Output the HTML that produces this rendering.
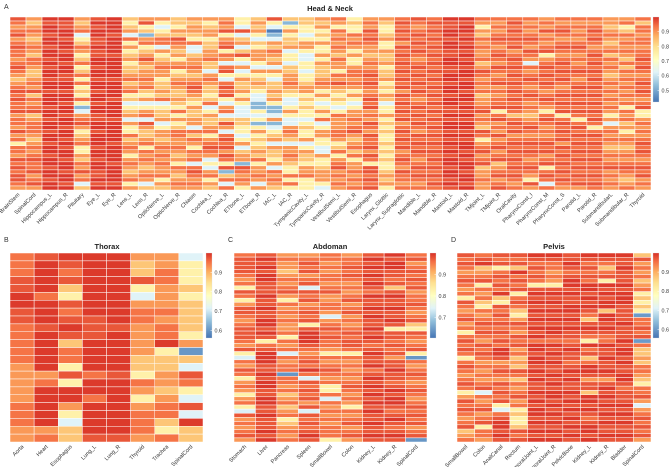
<!DOCTYPE html>
<html><head><meta charset="utf-8">
<style>
html,body{margin:0;padding:0;background:#fff;}
svg{display:block;font-family:"Liberation Sans",sans-serif;}
</style></head>
<body>
<svg id="fig" width="669" height="467" viewBox="0 0 669 467" xmlns="http://www.w3.org/2000/svg">
<rect width="669" height="467" fill="#fff"/>
<text x="4" y="9" font-size="7" fill="#333">A</text>
<text x="4" y="242" font-size="7" fill="#333">B</text>
<text x="228" y="242" font-size="7" fill="#333">C</text>
<text x="451" y="242" font-size="7" fill="#333">D</text>
<text x="330" y="11" font-size="7.5" font-weight="bold" text-anchor="middle" fill="#222">Head &amp; Neck</text>
<text x="107" y="249" font-size="7.5" font-weight="bold" text-anchor="middle" fill="#222">Thorax</text>
<text x="330" y="249" font-size="7.5" font-weight="bold" text-anchor="middle" fill="#222">Abdoman</text>
<text x="554" y="249" font-size="7.5" font-weight="bold" text-anchor="middle" fill="#222">Pelvis</text>
</svg>
<script>
// ---- Panel A data ----
const catsA = ["BrainStem","SpinalCord","Hippocampus_L","Hippocampus_R","Pituitary","Eye_L","Eye_R","Lens_L","Lens_R","OpticNerve_L","OpticNerve_R","Chiasm","Cochlea_L","Cochlea_R","ETbone_L","ETbone_R","IAC_L","IAC_R","TympanicCavity_L","TympanicCavity_R","VestibulSemi_L","VestibulSemi_R","Esophagus","Larynx_Glottic","Larynx_Supraglottic","Mandible_L","Mandible_R","Mastoid_L","Mastoid_R","TMjoint_L","TMjoint_R","OralCavity","PharynxConst_I","PharynxConst_M","PharynxConst_S","Parotid_L","Parotid_R","SubmandibularL","Submandibular_R","Thyroid"];
const levelsA = {a:0.992,b:0.965,c:0.936,d:0.895,e:0.838,f:0.75,g:0.623,h:0.524,i:0.432};
const colsA = [
"bcdcbdcbcc dcbcdedcbc bccbdccdbd cfccdbcbcbbcd",
"dedcdedcde ccdeedcdbe cdcbedcccd edcdcbccbdcbd",
"abaabaabaa babaabaaba aabaabaaba abaabaabaabaa",
"abbaabaaba abaabbaaba abaabaabaa babaabaabaaba",
"dedcgfecdf ecfecfcfef cfhgdcbdfe dcffdecdbdcge",
"babaabbabb aabaabaaba abaabbaaba aabaabaabbaba",
"aaaabaaaab aaaaabaaaa baaaabaaaa abaaaabaaaaba",
"efedgcfdfe dfeedcedcf egfedgdffc edcdfdcdedcfd",
"dbfehdcfed bdeddcdcef dgfdcgbdee dcfcdcdedcdge",
"dfgfeccgdf edcddfeede cgfeedgfdd edcdcdcddcfde",
"eefdebcded fdcfedcdee defcfdfecc ddcdedfcdedcd",
"deddefcgge ddcdedcbcd efdeeddgce cdfcdcgcbcdcd",
"dfeddfeedd ceegdcdeef ecgfdeedcf dcbcdgfgdcfde",
"dcdbfdcbfc dgcbfgcbcb fgdcgebdgc bcbdbcfbhecgc",
"ffgbgedgeb fgdgfdeedf dfgggeeffg fdgeddhbcdcdf",
"ededfgefdd dfgdfedefg ghhfgfhfdf efedecfddcdgd",
"bfgihgdecd edgdfgeede dfhhgdhgfe dgdeefdgcdcde",
"ehfdfeedgf fgeeddcdef ggfdfggdcd egddcdeffcfcf",
"eeffgfddfg gffgffeddf efeffgfeff dgfdeefddcfff",
"dedfefdffd fdeeedcdfd fgfdfcgfdd ffggdffedddfg",
"cdfcdcdcde cddfcdbdef efgfcdddcc dfecfdcbdcdcd",
"feffcdcdfd ffdccdcdfd fgfddcdcbd edcecfddcdcdc",
"dcdbcbcdde dcdcbcbcdc bcbdcdbcdb ccbdbcfbbcbcb",
"deffedffde edfeedfefd egffdfefef fefefeffededf",
"cbcbcbdbcb cbcbcbcbdb cbcbcbdcbc bcbdcbcdbccdc",
"bcdcbcbcbc dcbcbcbcbc dcbcbcbcdb cbcbcdcbcbcdc",
"cbcbcbcbcb cbcbcbcbcb cbcbcbcbcb cbcbcbcbcbcbc",
"abbaabaabb aabbaabaab aabbabaaba bababaabaabab",
"abaabababa babaabaaba abababaaba baababaabaaba",
"cdfdecdcdd cedbcdcdce ddcbdcdebc fdcbdcbeddcdd",
"cdcdcbcdcb cdbcdcbdcd ccbfcbdcdb dcbdcbedcbdcb",
"cbcbcbcbdc bcbcbcbcbc bcbcecbcbd cbcbcbcbcbcdc",
"cdcdcbcdbc dgcdcbcdcb cdcdedcbcd cbcbcdcbcdfbd",
"dcdbdcdcbf dcbcbcbcdc bcdfcbcdcd cbcbdcbfcbcgc",
"cdcbcdcbcd cbcbcbcdcb cbcbfcbcbc bdbcbcbcbcbcd",
"cdcdcdcbcd cdcbcdcbcb cbcbcfcbcb cbcbcbcbcbcbd",
"cdcbcbcdcb cbcbcbcbcb cbcbcbcfcb cbcbcbcbcbcbc",
"ddedcdedce cdcdedcdcd cdcdfdgdcd cdedcdcbdcdcd",
"dcfecdcdcd ececdcdcdc dcfcdcedfd cdedcdcbcdedc",
"ceccdccdcc bcbcdcbcbc dcbffdcdcd cbcbcdcbcbdcd"];
const ticksA = [0.9,0.8,0.7,0.6,0.5];
const domainA = [0.42,1.0];

// ---- Panel B data ----
const catsB = ["Aorta","Heart","Esophagus","Lung_L","Lung_R","Thyroid","Trachea","SpinalCord"];
const levelsB = {a:0.993,b:0.972,c:0.95,d:0.92,e:0.876,f:0.81,g:0.714,h:0.60,i:0.569};
const colsB = [
"cccbbaabbcccccdddddcccdd",
"baaaacaaabaaaaadcaaaaadc",
"abcbefbcbabeccfbfaadfgee",
"aaaaaaaabbbaaaacaacaaaab",
"aaaaaaaaabaaaaabaaaaaaab",
"deebfgdccddddeefcdfdcccd",
"ddccdddcdccafeeddedccefc",
"gfffefeeeefdhegbcfgbgaee"];
const ticksB = [0.9,0.8,0.7,0.6];
const domainB = [0.56,1.0];

// ---- Panel C data ----
const catsC = ["Stomach","Liver","Pancreas","Spleen","SmallBowel","Colon","Kidney_L","Kidney_R","SpinalCord"];
const levelsC = {a:0.994,b:0.974,c:0.956,d:0.93,e:0.888,f:0.83,g:0.74,h:0.64,i:0.608};
const colsC = [
"cbbbbcdcfbcfdbbcdcbbbcdbfgcdbcfdcdfdcfgbdcdcbd",
"bababaabbbabbabbaababfcbaaabbabaabbaabbabbbaba",
"dcddedcdcbdfcdcdcddcfcdcgcdcchccdcedcedcfedcdc",
"dcbcbdcbgbcbdcbcbfbaaabcdcbcacgbcbcbdbgbcbcbab",
"ccdcdccdcbddccdgdcbcbccdfcdcbcdcffcgcdcdcdcccf",
"dccbcbcdcdcbdcbdcdcbcbbcfcdcdcdcbcdcdfcdcbdcbd",
"bababababcabbababbababcbabbacbabababababbabbab",
"abaabbcbebabbabbabfbbcbcbdbbabbcbabaabcbabcbab",
"cbdcbcbcbdccbcdcbefbcdcbfhcdcbcdcbcdcbcbcbdcbh"];
const ticksC = [0.9,0.8,0.7];
const domainC = [0.605,1.0];

// ---- Panel D data ----
const catsD = ["SmallBowel","Colon","AnalCanal","Rectum","FemoralJoint_L","FemoralJoint_R","PelvicBone","Kidney_L","Kidney_R","Bladder","SpinalCord"];
const levelsD = {a:0.993,b:0.972,c:0.95,d:0.918,e:0.875,f:0.81,g:0.711,h:0.60,i:0.564};
const colsD = [
"bcbcdcbcdcfbcdcbdcfcbcbcfcbcdcbcfdbcbcdcbedc",
"cbaedcbfcdcefcdcbcbcdbcbcdcdcdcbgcdcbdcbfccd",
"bcbfcbcbcaefbcbcbcbcbcaabdcbcdbcbcbfgcbaabab",
"bcbeacbcbfcbcefdbcdbcbdcedebcecdcbdcfeffebcb",
"abcbcbcfbabababababacaabaabababbababaabababa",
"abccdcdfbababababaabcabababbababaabababababa",
"bbabcbaababbaabababbcbabbcbababbabababababab",
"abcbcbcaabababcebabcfacbecaabdbbeaababcbaaba",
"abcecbfababaaeaababccabbabbabdbabababababbab",
"abbabbbabaaabbbbabbbabaababbaabcbbbabababbab",
"ebdcdcedcfefefhccbcbhceedeccdefccbdgdcbcbcbd"];
const ticksD = [0.9,0.8,0.7,0.6];
const domainD = [0.555,1.0];

const NS = "http://www.w3.org/2000/svg";
const svg = document.getElementById('fig');
const stops = [[0,[69,117,180]],[0.2,[145,191,219]],[0.35,[224,243,248]],[0.5,[255,255,191]],[0.65,[254,224,144]],[0.78,[253,174,97]],[0.9,[244,109,67]],[1,[215,48,39]]];
function colorOf(v, dom){
  let t = (v-dom[0])/(dom[1]-dom[0]); t=Math.max(0,Math.min(1,t));
  for(let i=1;i<stops.length;i++){
    if(t<=stops[i][0]){
      const a=stops[i-1], b=stops[i]; const u=(t-a[0])/(b[0]-a[0]);
      const c=a[1].map((x,k)=>Math.round(x+(b[1][k]-x)*u));
      return `rgb(${c[0]},${c[1]},${c[2]})`;
    }
  }
  return 'rgb(215,48,39)';
}
function mk(tag, attrs){const e=document.createElementNS(NS,tag);for(const k in attrs)e.setAttribute(k,attrs[k]);return e;}

function drawPanel(key, cats, cols, levels, dom, ticks, box, bar, nRows){
  const g = mk('g',{});
  
  
  svg.appendChild(g);
  const cw = (box.x1-box.x0)/cats.length;
  const rh = (box.y1-box.y0)/nRows;
  const xScale = i => box.x0 + i*cw;
  const yScale = r => box.y0 + r*rh;
  cols.forEach((s,ci)=>{
    const str = s.replace(/ /g,'');
    for(let r=0;r<nRows;r++){
      const ch = str.charAt(r) || 'c';
      const v = levels[ch];
      const rect = mk('rect',{x:xScale(ci),y:yScale(r),width:cw,height:rh,fill:colorOf(v,dom),stroke:'#fff','stroke-width':0.5});
      
      
      g.appendChild(rect);
    }
  });
  cats.forEach((c,ci)=>{
    const cx = xScale(ci)+cw/2+2, ty = box.y1+5;
    const t = mk('text',{x:cx,y:ty,'font-size':5.6,fill:'#333','text-anchor':'end',transform:`rotate(-45 ${cx} ${ty})`});
    t.textContent = c;
    
    
    svg.appendChild(t);
  });
  const defs = mk('defs',{}); svg.appendChild(defs);
  const lg = mk('linearGradient',{id:'grad'+key,x1:0,y1:1,x2:0,y2:0});
  stops.forEach(s=>lg.appendChild(mk('stop',{offset:s[0],'stop-color':`rgb(${s[1].join(',')})`})));
  defs.appendChild(lg);
  const cb = mk('rect',{x:bar.x,y:bar.y0,width:6,height:bar.y1-bar.y0,fill:`url(#grad${key})`,stroke:'#ddd','stroke-width':0.3});
  
  
  svg.appendChild(cb);
  ticks.forEach(tv=>{
    const y = bar.y1 - (tv-dom[0])/(dom[1]-dom[0])*(bar.y1-bar.y0);
    svg.appendChild(mk('line',{x1:bar.x+4.5,x2:bar.x+6,y1:y,y2:y,stroke:'#fff','stroke-width':0.5}));
    const t = mk('text',{x:bar.x+8.5,y:y+2,'font-size':5.4,fill:'#333'});
    t.textContent = tv.toFixed(1);
    
    
    svg.appendChild(t);
  });
}
drawPanel('a', catsA, colsA, levelsA, domainA, ticksA, {x0:10,x1:651,y0:17,y1:190}, {x:653,y0:17,y1:102}, 43);
drawPanel('b', catsB, colsB, levelsB, domainB, ticksB, {x0:10,x1:203,y0:253,y1:442}, {x:206,y0:253,y1:338}, 24);
drawPanel('c', catsC, colsC, levelsC, domainC, ticksC, {x0:234,x1:427,y0:253,y1:442}, {x:430,y0:253,y1:338}, 46);
drawPanel('d', catsD, colsD, levelsD, domainD, ticksD, {x0:457,x1:651,y0:253,y1:442}, {x:653,y0:253,y1:338}, 44);
</script>
</body></html>
